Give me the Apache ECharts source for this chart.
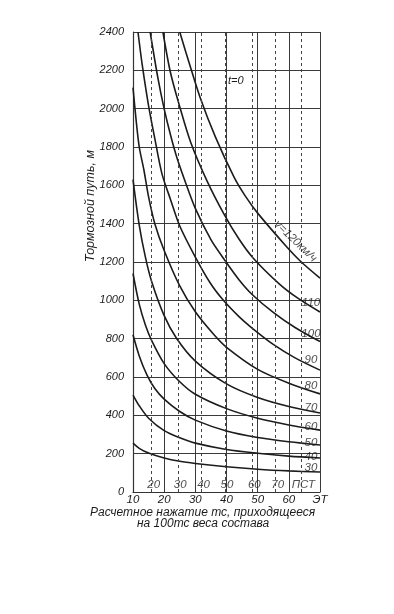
<!DOCTYPE html>
<html><head><meta charset="utf-8">
<script src="https://cdn.jsdelivr.net/npm/echarts@6/dist/echarts.min.js"></script>
<style>html,body{margin:0;padding:0;background:#fff}#c{width:394px;height:614px}</style>
</head><body><div id="c"></div>
<script>
// Braking distance (m) vs. braking force per 100 tf of train weight, t = 0
const speedNames = ['30','40','50','60','70','80','90','100','110','120'];
const curve30  = [[10,255],[12,228],[15,203],[20,177],[25,160],[30,149],[40,132],[50,119],[60,110],[70,104]];
const curve40  = [[10,506],[12,450],[15,385],[20,320],[25,283],[30,255],[40,222],[50,202],[60,187],[70,177]];
const curve50  = [[10,820],[12,710],[14.5,610],[17,540],[20,485],[25,420],[30,375],[40,318],[50,284],[60,262],[70,245]];
const curve60  = [[10,1140],[12,980],[14,870],[16,790],[20,670],[25,575],[30,510],[40,435],[50,385],[60,350],[70,323]];
const curve70  = [[10,1630],[12,1393],[14,1224],[16,1097],[20,920],[24,801],[30,683],[40,564],[50,493],[60,446],[70,412]];
const curve80  = [[10,2110],[11,1940],[12,1800],[13.5,1680],[15,1540],[17,1400],[20,1260],[25,1075],[30,940],[36,820],[40,755],[50,640],[60,568],[70,512]];
const curve90  = [[11.6,2400],[13,2224],[15,2015],[17,1844],[19.3,1660],[22,1528],[25,1388],[30,1226],[35,1085],[39,1000],[44,915],[48,858],[55,770],[62,700],[70,636]];
const curve100 = [[15.5,2400],[18,2159],[20,1999],[22,1865],[24,1749],[26.3,1640],[30,1480],[35,1317],[39,1220],[44,1108],[48.4,1028],[55,937],[62,858],[70,785]];
const curve110 = [[19.6,2400],[22,2190],[25,2010],[28.5,1825],[33.7,1625],[39.2,1450],[44,1320],[48.6,1220],[57,1085],[63,1010],[70,939]];
const curve120 = [[25,2400],[28,2240],[31.5,2060],[36.5,1850],[42.5,1640],[46,1545],[50,1455],[59,1285],[64,1200],[70,1116]];
const curves = [curve30,curve40,curve50,curve60,curve70,curve80,curve90,curve100,curve110,curve120];

const yTickValues = [0,200,400,600,800,1000,1200,1400,1600,1800,2000,2200,2400];
const xTickValues = [10,20,30,40,50,60,70];
const xTickLabels = ['10','20','30','40','50','60','ЭТ'];
// second scale (composite shoes), positions in units of the main scale
const pstPositions = [16,24.5,32,39.5,48.3,55.8,64];
const pstLabels = ['20','30','40','50','60','70','ПСТ'];
const pstLabelLevel = 40;
const speedLabel = 'v=120км/ч';
const modeLabel = 't=0';

// pixel nudges of the curve-name labels (style only)
const nameLift = [-4,-1,-2,-3,-5,-8,-10,-8,-9];

const FONT = 'Liberation Sans';
const INK = '#1c1c1c';
const chart = echarts.init(document.getElementById('c'), null, {renderer:'canvas'});

const series = curves.map((d, i) => ({
  type:'line', name: speedNames[i], data: d,
  showSymbol:false, smooth:0.3, silent:true,
  lineStyle:{color:INK, width:1.6}, z:3
}));

// curve name labels, anchored to the last point of each curve
series.push({
  type:'scatter', symbolSize:0, silent:true, z:5,
  data: curves.slice(0, -1).map((d,i) => ({value:d[d.length-1], name:speedNames[i],
    label:{offset:[-9, nameLift[i]]}})),
  label:{show:true, position:'inside', formatter: p => p.name, fontStyle:'italic',
    fontSize:11.5, color:INK, fontFamily:FONT}
});
// speed label along the 120 km/h curve
series.push({
  type:'scatter', symbolSize:0, silent:true, z:5,
  data: [{value:curve120[7], name:speedLabel}],
  label:{show:true, position:'inside', formatter: p => p.name, fontStyle:'italic',
    fontSize:11.5, color:INK, fontFamily:FONT, rotate:-44, offset:[4,-10]}
});

// dashed gridlines of the second scale
series.push({
  type:'line', data:[], silent:true,
  markLine:{symbol:'none', silent:true, label:{show:false},
    lineStyle:{type:[3,3], color:'#444', width:1},
    data: pstPositions.map(v => ({xAxis:v}))}
});
// labels of the second scale
series.push({
  type:'scatter', symbolSize:0, silent:true,
  data: pstPositions.map((v,i) => ({value:[v,pstLabelLevel], name:pstLabels[i]})),
  label:{show:true, position:'inside', formatter: p => p.name, fontStyle:'italic',
    fontSize:11.5, color:INK, fontFamily:FONT, offset:[2,0]}
});

chart.setOption({
  animation:false,
  backgroundColor:'#fff',
  grid:{left:133, right:74, top:32, bottom:122},
  xAxis:{type:'value', min:10, max:70, interval:10,
    axisLine:{show:true, lineStyle:{color:'#333', width:1.2}},
    axisTick:{show:false},
    axisLabel:{margin:2, fontStyle:'italic', fontSize:11.5, color:INK, fontFamily:FONT,
      formatter: v => xTickLabels[xTickValues.indexOf(v)] ?? ''},
    splitLine:{show:true, lineStyle:{color:'#3a3a3a', width:1}}
  },
  yAxis:{type:'value', min:0, max:2400, interval:200,
    axisLine:{show:true, lineStyle:{color:'#333', width:1.2}},
    axisTick:{show:false},
    axisLabel:{margin:9, fontStyle:'italic', fontSize:11, color:INK, fontFamily:FONT,
      formatter: v => yTickValues.includes(v) ? String(v) : ''},
    splitLine:{show:true, lineStyle:{color:'#3a3a3a', width:1}}
  },
  graphic:[
    {type:'text', left:84, top:150, rotation:Math.PI/2, style:{text:'Тормозной путь, м',
      font:'italic 12.5px "Liberation Sans"', fill:INK}},
    {type:'text', left:228, top:75, style:{text:modeLabel, font:'italic 11px "Liberation Sans"', fill:INK}},
    {type:'text', left:90, top:507, style:{text:'Расчетное нажатие тс, приходящееся',
      font:'italic 12px "Liberation Sans"', fill:INK}},
    {type:'text', left:137, top:518, style:{text:'на 100тс веса состава',
      font:'italic 12px "Liberation Sans"', fill:INK}}
  ],
  series: series
});
</script>
</body></html>
